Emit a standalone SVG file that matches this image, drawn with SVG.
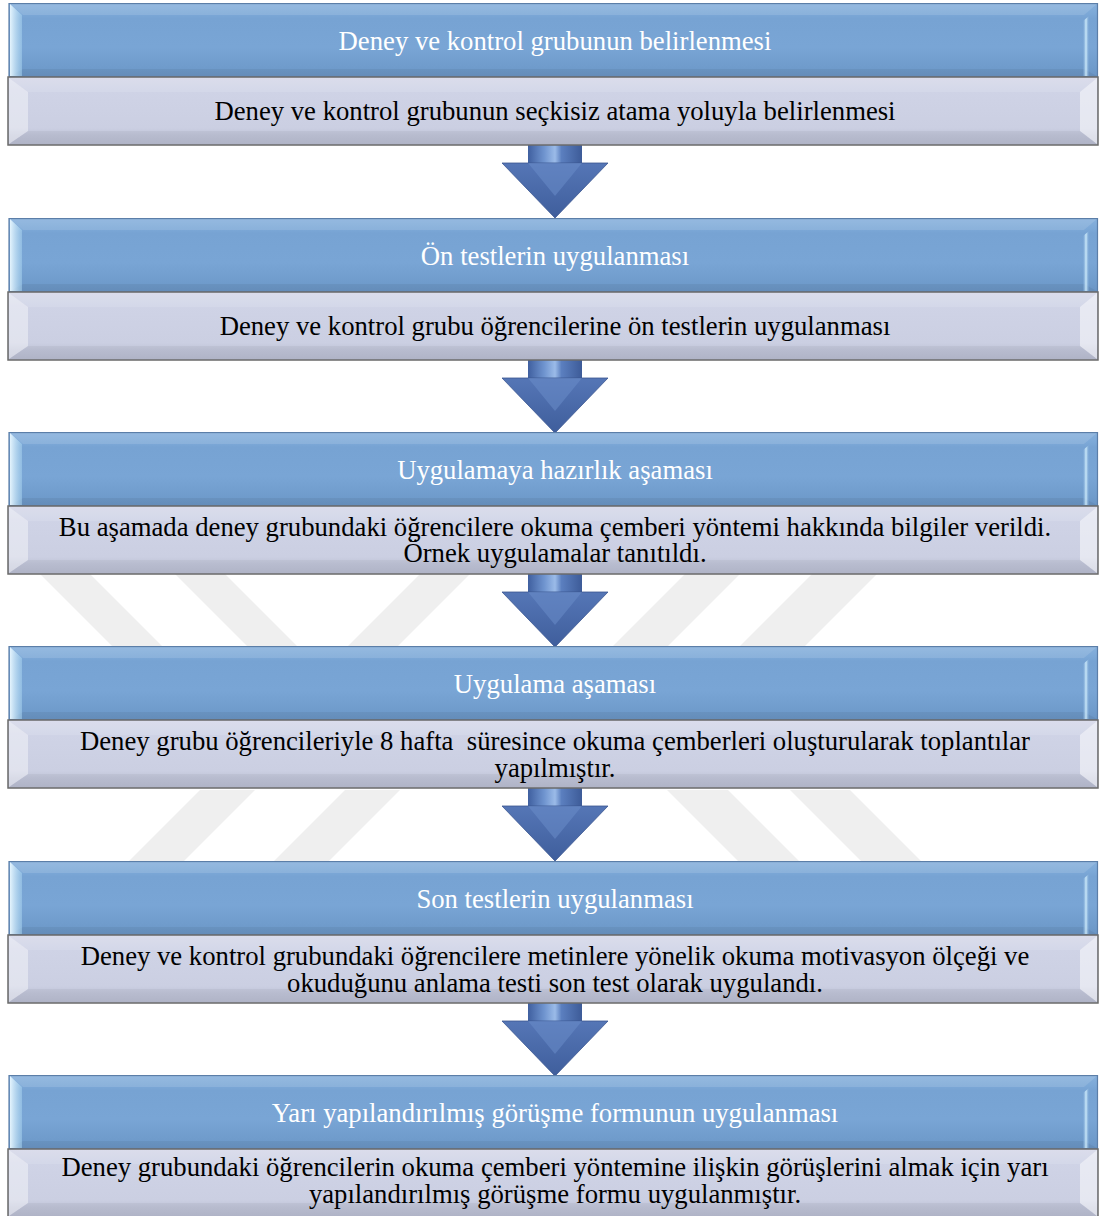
<svg xmlns="http://www.w3.org/2000/svg" width="1099" height="1216" viewBox="0 0 1099 1216">
<defs>
<linearGradient id="blueFill" x1="0" y1="0" x2="0" y2="1">
<stop offset="0" stop-color="#86b0dc"/>
<stop offset="0.14" stop-color="#7ca8d7"/>
<stop offset="0.2" stop-color="#77a3d3"/>
<stop offset="0.6" stop-color="#79a5d5"/>
<stop offset="0.88" stop-color="#6f9bcb"/>
<stop offset="1" stop-color="#6a94c4"/>
</linearGradient>
<linearGradient id="greyFill" x1="0" y1="0" x2="0" y2="1">
<stop offset="0" stop-color="#d6d9ea"/>
<stop offset="0.2" stop-color="#cfd3e6"/>
<stop offset="0.75" stop-color="#cbcfe2"/>
<stop offset="0.85" stop-color="#c0c4d8"/>
<stop offset="1" stop-color="#b7bbcf"/>
</linearGradient>
<linearGradient id="leftHi" x1="0" y1="0" x2="1" y2="0">
<stop offset="0" stop-color="#eaf8ff" stop-opacity="0.95"/>
<stop offset="1" stop-color="#a8d4f0" stop-opacity="0.5"/>
</linearGradient>
<linearGradient id="rightHi" x1="0" y1="0" x2="1" y2="0">
<stop offset="0" stop-color="#7aa6d6" stop-opacity="0.3"/>
<stop offset="0.5" stop-color="#d6f2ff" stop-opacity="0.9"/>
<stop offset="1" stop-color="#7aa6d6" stop-opacity="0.3"/>
</linearGradient>
<linearGradient id="shaft" x1="0" y1="0" x2="1" y2="0">
<stop offset="0" stop-color="#3f5f9f"/>
<stop offset="0.3" stop-color="#6f94cf"/>
<stop offset="0.5" stop-color="#9bbbe8"/>
<stop offset="0.62" stop-color="#5b7fbf"/>
<stop offset="1" stop-color="#3d5b98"/>
</linearGradient>
<linearGradient id="head" x1="0" y1="0" x2="0" y2="1">
<stop offset="0" stop-color="#5576b6"/>
<stop offset="1" stop-color="#3f5e9c"/>
</linearGradient>
<clipPath id="wmClip"><rect x="0" y="574" width="1099" height="287"/></clipPath>
<style>
.blue{fill:url(#blueFill);stroke:#5b7ea8;stroke-width:1.2}
.grey{fill:url(#greyFill);stroke:#6a6a6a;stroke-width:1.5}
.title{font-family:"Liberation Serif","Times New Roman",serif;font-size:26.7px;fill:#ffffff;text-anchor:middle}
.desc{font-family:"Liberation Serif","Times New Roman",serif;font-size:26.7px;fill:#000000;text-anchor:middle;white-space:pre}
.wm{fill:#efefef}
.arrowShaft{fill:url(#shaft)}
.arrowHead{fill:url(#head);stroke:#3a5690;stroke-width:0.8}
.arrowInner{fill:#6a8cc9;opacity:0.55}
</style>
</defs>
<rect width="1099" height="1216" fill="#ffffff"/>

<g id="watermark" clip-path="url(#wmClip)">
<polygon class="wm" points="40,574 90,574 247,731 197,731"/>
<polygon class="wm" points="175,574 225,574 382,731 332,731"/>
<polygon class="wm" points="420,574 470,574 313,731 263,731"/>
<polygon class="wm" points="685,574 740,574 583,731 528,731"/>
<polygon class="wm" points="812,574 877,574 720,731 655,731"/>
<polygon class="wm" points="200,790 255,790 184,861 129,861"/>
<polygon class="wm" points="345,790 400,790 329,861 274,861"/>
<polygon class="wm" points="667,790 728,790 799,861 738,861"/>
<polygon class="wm" points="790,790 850,790 921,861 861,861"/>
</g>

<g id="connectors">
<g id="arrow-1">
<rect class="arrowShaft" x="528" y="143" width="54" height="21"/>
<polygon class="arrowHead" points="502,163 608,163 555,218"/>
<polygon class="arrowInner" points="528,163 582,163 555,196"/>
</g>
<g id="arrow-2">
<rect class="arrowShaft" x="528" y="358" width="54" height="21"/>
<polygon class="arrowHead" points="502,378 608,378 555,433"/>
<polygon class="arrowInner" points="528,378 582,378 555,411"/>
</g>
<g id="arrow-3">
<rect class="arrowShaft" x="528" y="572" width="54" height="21"/>
<polygon class="arrowHead" points="502,592 608,592 555,647"/>
<polygon class="arrowInner" points="528,592 582,592 555,625"/>
</g>
<g id="arrow-4">
<rect class="arrowShaft" x="528" y="786" width="54" height="21"/>
<polygon class="arrowHead" points="502,806 608,806 555,861"/>
<polygon class="arrowInner" points="528,806 582,806 555,839"/>
</g>
<g id="arrow-5">
<rect class="arrowShaft" x="528" y="1001" width="54" height="21"/>
<polygon class="arrowHead" points="502,1021 608,1021 555,1076"/>
<polygon class="arrowInner" points="528,1021 582,1021 555,1054"/>
</g>
</g>

<defs>
<g id="blockShape">
<rect class="blue" x="9" y="0.6" width="1088.5" height="73.4"/>
<polygon points="10,1 1097,1 1084,12 23,12" fill="#ffffff" opacity="0.12"/>
<polygon points="10,73 1097,73 1084,66 23,66" fill="#000000" opacity="0.05"/>
<polygon points="10,1 22,12 22,73 10,73" fill="url(#leftHi)"/>
<polygon points="1083,18 1089,13 1089,73 1083,73" fill="url(#rightHi)"/>
<rect class="grey" x="8" y="74" width="1090" height="68"/>
<polygon points="9,75 28,89 28,128 9,141" fill="#ffffff" opacity="0.4"/>
<polygon points="1097,75 1080,89 1080,128 1097,141" fill="#ffffff" opacity="0.5"/>
<polygon points="9,75 1097,75 1080,89 28,89" fill="#ffffff" opacity="0.12"/>
<polygon points="9,141 1097,141 1080,128 28,128" fill="#000000" opacity="0.04"/>
</g>
</defs>

<g id="node-1" transform="translate(0,3)">
<use href="#blockShape"/>
<text class="title" x="555" y="47">Deney ve kontrol grubunun belirlenmesi</text>
<text class="desc" x="555" y="117">Deney ve kontrol grubunun seçkisiz atama yoluyla belirlenmesi</text>
</g>

<g id="node-2" transform="translate(0,218)">
<use href="#blockShape"/>
<text class="title" x="555" y="47">Ön testlerin uygulanması</text>
<text class="desc" x="555" y="117">Deney ve kontrol grubu öğrencilerine ön testlerin uygulanması</text>
</g>

<g id="node-3" transform="translate(0,432)">
<use href="#blockShape"/>
<text class="title" x="555" y="47">Uygulamaya hazırlık aşaması</text>
<text class="desc" x="555" y="104">Bu aşamada deney grubundaki öğrencilere okuma çemberi yöntemi hakkında bilgiler verildi.</text>
<text class="desc" x="555" y="130">Örnek uygulamalar tanıtıldı.</text>
</g>

<g id="node-4" transform="translate(0,646)">
<use href="#blockShape"/>
<text class="title" x="555" y="47">Uygulama aşaması</text>
<text class="desc" x="555" y="104">Deney grubu öğrencileriyle 8 hafta  süresince okuma çemberleri oluşturularak toplantılar</text>
<text class="desc" x="555" y="131">yapılmıştır.</text>
</g>

<g id="node-5" transform="translate(0,861)">
<use href="#blockShape"/>
<text class="title" x="555" y="47">Son testlerin uygulanması</text>
<text class="desc" x="555" y="104">Deney ve kontrol grubundaki öğrencilere metinlere yönelik okuma motivasyon ölçeği ve</text>
<text class="desc" x="555" y="131">okuduğunu anlama testi son test olarak uygulandı.</text>
</g>

<g id="node-6" transform="translate(0,1075)">
<use href="#blockShape"/>
<text class="title" x="555" y="47">Yarı yapılandırılmış görüşme formunun uygulanması</text>
<text class="desc" x="555" y="101">Deney grubundaki öğrencilerin okuma çemberi yöntemine ilişkin görüşlerini almak için yarı</text>
<text class="desc" x="555" y="128">yapılandırılmış görüşme formu uygulanmıştır.</text>
</g>
</svg>
